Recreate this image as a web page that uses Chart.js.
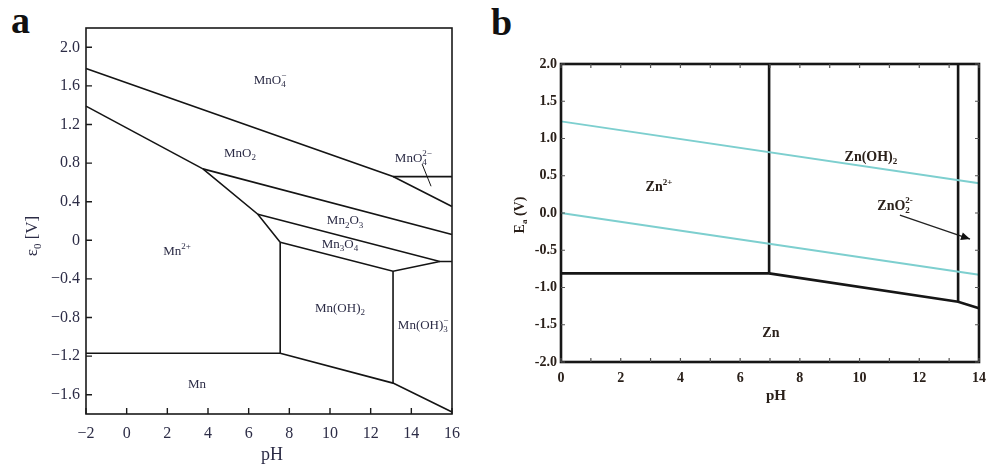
<!DOCTYPE html>
<html><head><meta charset="utf-8">
<script src="https://cdn.jsdelivr.net/npm/chart.js@4.4.1/dist/chart.umd.min.js"></script>
<style>
html,body{margin:0;padding:0;background:#fff;width:987px;height:466px;overflow:hidden;}
#wa{position:absolute;left:0;top:0;width:480px;height:466px;}
#wb{position:absolute;left:480px;top:0;width:507px;height:466px;}
.pl{position:absolute;font-family:"Liberation Serif",serif;font-weight:bold;font-size:38px;color:#111;line-height:1;}
</style></head><body>
<div class="pl" style="left:11px;top:1px">a</div>
<div class="pl" style="left:491px;top:3px">b</div>
<div id="wa"><canvas id="ca" width="480" height="466"></canvas></div>
<div id="wb"><canvas id="cb" width="507" height="466"></canvas></div>
<script>
// ---------- Panel a: Mn Pourbaix diagram (pH, E in V) ----------
const phTicksA = [-2, 0, 2, 4, 6, 8, 10, 12, 14, 16];
const eTicksA = [-1.6, -1.2, -0.8, -0.4, 0, 0.4, 0.8, 1.2, 1.6, 2.0];
const mnO4_MnO2 = [[-2, 1.78], [13.1, 0.66], [16, 0.35]];
const mnO4_MnO4_2 = [[13.1, 0.66], [16, 0.66]];
const mnO2_Mn2 = [[-2, 1.39], [3.75, 0.74]];
const mnO2_Mn2O3 = [[3.75, 0.74], [16, 0.06]];
const mn2O3_Mn2 = [[3.75, 0.74], [6.45, 0.27], [7.55, -0.02]];
const mn2O3_Mn3O4 = [[6.45, 0.27], [15.4, -0.22], [16, -0.22]];
const mn3O4_MnOH2 = [[7.55, -0.02], [13.1, -0.32], [15.4, -0.22]];
const mn2_MnOH2 = [[7.55, -0.02], [7.55, -1.17]];
const mn2_Mn = [[-2, -1.17], [7.55, -1.17]];
const mnOH2_Mn = [[7.55, -1.17], [13.1, -1.48], [16, -1.78]];
const mnOH2_MnOH3 = [[13.1, -0.32], [13.1, -1.48]];
const mnO4_2_leader = [[14.53, 0.79], [14.97, 0.56]];
const labelsA = ["MnO_{4}^{−}", "MnO_{2}", "MnO_{4}^{2−}", "Mn_{2}O_{3}", "Mn_{3}O_{4}", "Mn^{2+}", "Mn(OH)_{2}", "Mn(OH)_{3}^{−}", "Mn"];
const labelPhA = [7.05, 5.57, 14.1, 10.74, 10.49, 2.48, 10.49, 14.58, 3.46];
const labelEA = [1.66, 0.90, 0.85, 0.20, -0.04, -0.12, -0.71, -0.88, -1.50];

// ---------- Panel b: Zn Pourbaix diagram ----------
const phTicksB = [0, 1, 2, 3, 4, 5, 6, 7, 8, 9, 10, 11, 12, 13, 14];
const eTicksB = [-2.0, -1.5, -1.0, -0.5, 0.0, 0.5, 1.0, 1.5, 2.0];
const zn2_ZnOH2 = [[6.97, 2.0], [6.97, -0.81]];
const zn2_Zn = [[0, -0.81], [6.97, -0.81]];
const znOH2_Zn = [[6.97, -0.81], [13.3, -1.19], [14, -1.28]];
const znOH2_ZnO2 = [[13.3, 2.0], [13.3, -1.19]];
const waterO2 = [[0, 1.23], [14, 0.40]];
const waterH2 = [[0, 0.0], [14, -0.83]];
const znO2Arrow = [[11.35, -0.03], [13.7, -0.35]];
const labelsB = ["Zn^{2+}", "Zn(OH)_{2}", "ZnO_{2}^{2-}", "Zn"];
const labelPhB = [3.28, 10.38, 11.19, 7.03];
const labelEB = [0.34, 0.75, 0.09, -1.62];

const FAM = '"Liberation Serif", "Times New Roman", serif';

function parseRich(s) {
  const parts = []; let i = 0; let cur = '';
  const flush = () => { if (cur) { parts.push({ t: cur }); cur = ''; } };
  const readGroup = () => {
    if (s[i] === '{') { const j = s.indexOf('}', i); const g = s.slice(i + 1, j); i = j + 1; return g; }
    const g = s[i]; i++; return g;
  };
  while (i < s.length) {
    const c = s[i];
    if (c === '_' || c === '^') {
      flush(); i++;
      const g = readGroup();
      const key = c === '_' ? 'sub' : 'sup';
      const last = parts[parts.length - 1];
      if (last && last.script && !last[key]) last[key] = g;
      else { const p = { script: true, sub: null, sup: null }; p[key] = g; parts.push(p); }
    } else { cur += c; i++; }
  }
  flush();
  return parts;
}
function drawRich(ctx, text, x, y, f) {
  const parts = parseRich(text);
  const bf = `${f.weight || 'normal'} ${f.size}px ${FAM}`;
  const ss = Math.round(f.size * 0.66);
  const sf = `${f.weight || 'normal'} ${ss}px ${FAM}`;
  let w = 0;
  const widths = parts.map(p => {
    let pw;
    if (p.t) { ctx.font = bf; pw = ctx.measureText(p.t).width; }
    else { ctx.font = sf; pw = Math.max(p.sub ? ctx.measureText(p.sub).width : 0, p.sup ? ctx.measureText(p.sup).width : 0); }
    w += pw; return pw;
  });
  let cx = x - w / 2;
  ctx.fillStyle = f.color; ctx.textBaseline = 'middle'; ctx.textAlign = 'left';
  parts.forEach((p, k) => {
    if (p.t) { ctx.font = bf; ctx.fillText(p.t, cx, y); }
    else {
      ctx.font = sf;
      if (p.sub) ctx.fillText(p.sub, cx, y + f.size * 0.32);
      if (p.sup) ctx.fillText(p.sup, cx, y - f.size * 0.38);
    }
    cx += widths[k];
  });
}

const overlay = {
  id: 'overlay',
  afterDatasetsDraw(chart, args, o) {
    const { ctx, chartArea: a, scales: { x, y } } = chart;
    ctx.save();
    ctx.strokeStyle = o.frameColor; ctx.lineWidth = o.frameWidth;
    ctx.strokeRect(a.left, a.top, a.right - a.left, a.bottom - a.top);
    ctx.lineWidth = o.tickWidth; ctx.strokeStyle = o.tickColor;
    ctx.beginPath();
    x.ticks.forEach(t => {
      const px = x.getPixelForValue(t.value);
      if (o.tickSides.includes('bottom')) { ctx.moveTo(px, a.bottom); ctx.lineTo(px, a.bottom - o.tickLen); }
      if (o.tickSides.includes('top')) { ctx.moveTo(px, a.top); ctx.lineTo(px, a.top + o.tickLen); }
    });
    y.ticks.forEach(t => {
      const py = y.getPixelForValue(t.value);
      if (o.tickSides.includes('left')) { ctx.moveTo(a.left, py); ctx.lineTo(a.left + o.tickLen, py); }
      if (o.tickSides.includes('right')) { ctx.moveTo(a.right, py); ctx.lineTo(a.right - o.tickLen, py); }
    });
    ctx.stroke();
    o.labels.forEach((s, k) => {
      drawRich(ctx, s, x.getPixelForValue(o.labelX[k]), y.getPixelForValue(o.labelY[k]), o.labelFont);
    });
    if (o.arrow) {
      const p = o.arrow;
      const x1 = x.getPixelForValue(p[0][0]), y1 = y.getPixelForValue(p[0][1]);
      const x2 = x.getPixelForValue(p[1][0]), y2 = y.getPixelForValue(p[1][1]);
      const ang = Math.atan2(y2 - y1, x2 - x1);
      ctx.fillStyle = '#111';
      ctx.beginPath();
      ctx.moveTo(x2, y2);
      ctx.lineTo(x2 - 9 * Math.cos(ang) + 4 * Math.sin(ang), y2 - 9 * Math.sin(ang) - 4 * Math.cos(ang));
      ctx.lineTo(x2 - 9 * Math.cos(ang) - 4 * Math.sin(ang), y2 - 9 * Math.sin(ang) + 4 * Math.cos(ang));
      ctx.closePath(); ctx.fill();
    }
    o.titles.forEach(t => {
      ctx.save();
      ctx.translate(t.x, t.y);
      if (t.rot) ctx.rotate(-Math.PI / 2);
      drawRich(ctx, t.text, 0, 0, t.font);
      ctx.restore();
    });
    ctx.restore();
  }
};

const toPts = arr => arr.map(([px, py]) => ({ x: px, y: py }));
const seg = (arr, color, w) => ({ data: toPts(arr), borderColor: color, backgroundColor: color, borderWidth: w, showLine: true, pointRadius: 0, fill: false, tension: 0, clip: false });

const LA = '#141414', WA = 1.6;
new Chart(document.getElementById('ca'), {
  type: 'scatter',
  data: {
    datasets: [
      seg(mnO4_MnO2, LA, WA), seg(mnO4_MnO4_2, LA, WA), seg(mnO2_Mn2, LA, WA), seg(mnO2_Mn2O3, LA, WA),
      seg(mn2O3_Mn2, LA, WA), seg(mn2O3_Mn3O4, LA, WA), seg(mn3O4_MnOH2, LA, WA), seg(mn2_MnOH2, LA, WA),
      seg(mn2_Mn, LA, WA), seg(mnOH2_Mn, LA, WA), seg(mnOH2_MnOH3, LA, WA), seg(mnO4_2_leader, LA, 1)
    ]
  },
  options: {
    responsive: false, animation: false,
    layout: { padding: { top: 28, right: 28, left: 0, bottom: 0 } },
    plugins: {
      legend: { display: false }, tooltip: { enabled: false },
      overlay: {
        frameColor: '#1a1a1a', frameWidth: 1.6, tickColor: '#1a1a1a', tickWidth: 1.4, tickLen: 6, tickSides: ['bottom', 'left'],
        labels: labelsA, labelX: labelPhA, labelY: labelEA,
        labelFont: { size: 13, color: '#2c2c46' },
        titles: [
          { text: 'ε_{0} [V]', x: 33, y: 236, rot: true, font: { size: 17, color: '#2c2c46' } },
          { text: 'pH', x: 272, y: 455, rot: false, font: { size: 18, color: '#2c2c46' } }
        ]
      }
    },
    scales: {
      x: {
        type: 'linear', min: -2, max: 16,
        afterBuildTicks: s => { s.ticks = phTicksA.map(v => ({ value: v })); },
        afterFit: s => { s.height = 52; s.paddingLeft = 0; s.paddingRight = 0; },
        grid: { display: false, drawTicks: false }, border: { display: false },
        ticks: { padding: 10, autoSkip: false, maxRotation: 0, color: '#2c2c46', font: { family: FAM, size: 16 },
          callback: v => String(v).replace('-', '−') }
      },
      y: {
        type: 'linear', min: -1.8, max: 2.2,
        afterBuildTicks: s => { s.ticks = eTicksA.map(v => ({ value: v })); },
        afterFit: s => { s.width = 86; s.paddingTop = 0; s.paddingBottom = 0; },
        grid: { display: false, drawTicks: false }, border: { display: false },
        ticks: { padding: 6, autoSkip: false, color: '#2c2c46', font: { family: FAM, size: 16 },
          callback: v => (v === 0 ? '0' : v.toFixed(1)).replace('-', '−') }
      }
    }
  },
  plugins: [overlay]
});

const LB = '#161616', WB = 2.6, CY = '#7dcfcf';
new Chart(document.getElementById('cb'), {
  type: 'scatter',
  data: {
    datasets: [
      seg(waterO2, CY, 2), seg(waterH2, CY, 2),
      seg(zn2_ZnOH2, LB, WB), seg(zn2_Zn, LB, WB), seg(znOH2_Zn, LB, WB), seg(znOH2_ZnO2, LB, WB),
      seg(znO2Arrow, '#222', 1.3)
    ]
  },
  options: {
    responsive: false, animation: false,
    layout: { padding: { top: 64, right: 8, left: 0, bottom: 0 } },
    plugins: {
      legend: { display: false }, tooltip: { enabled: false },
      overlay: {
        frameColor: '#161616', frameWidth: 2.6, tickColor: '#555', tickWidth: 1.2, tickLen: 4, tickSides: ['bottom', 'top', 'left', 'right'],
        labels: labelsB, labelX: labelPhB, labelY: labelEB,
        labelFont: { size: 14, weight: 'bold', color: '#2a201a' },
        arrow: znO2Arrow,
        titles: [
          { text: 'E_{a} (V)', x: 40, y: 215, rot: true, font: { size: 14, weight: 'bold', color: '#2a201a' } },
          { text: 'pH', x: 296, y: 396, rot: false, font: { size: 15, weight: 'bold', color: '#2a201a' } }
        ]
      }
    },
    scales: {
      x: {
        type: 'linear', min: 0, max: 14,
        afterBuildTicks: s => { s.ticks = phTicksB.map(v => ({ value: v })); },
        afterFit: s => { s.height = 104; s.paddingLeft = 0; s.paddingRight = 0; },
        grid: { display: false, drawTicks: false }, border: { display: false },
        ticks: { padding: 8, autoSkip: false, maxRotation: 0, color: '#2a201a', font: { family: FAM, size: 14, weight: 'bold' },
          callback: v => (v % 2 === 0 ? String(v) : '') }
      },
      y: {
        type: 'linear', min: -2, max: 2,
        afterBuildTicks: s => { s.ticks = eTicksB.map(v => ({ value: v })); },
        afterFit: s => { s.width = 81; s.paddingTop = 0; s.paddingBottom = 0; },
        grid: { display: false, drawTicks: false }, border: { display: false },
        ticks: { padding: 4, autoSkip: false, color: '#2a201a', font: { family: FAM, size: 14, weight: 'bold' },
          callback: v => v.toFixed(1) }
      }
    }
  },
  plugins: [overlay]
});
</script>
</body></html>
